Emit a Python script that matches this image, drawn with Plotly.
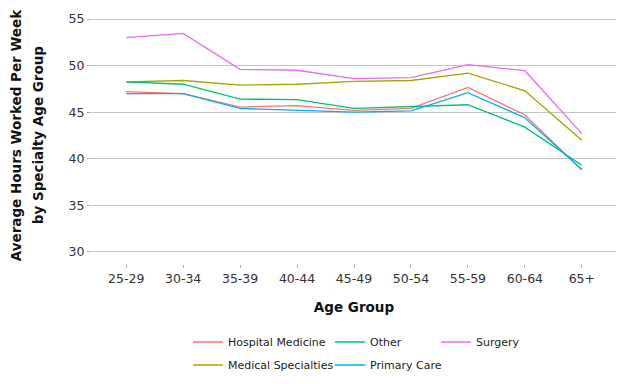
import plotly.graph_objects as go

age_groups = ["25-29", "30-34", "35-39", "40-44", "45-49", "50-54", "55-59", "60-64", "65+"]
hospital_medicine = [47.2, 47.0, 45.55, 45.7, 45.2, 45.4, 47.65, 44.7, 38.8]
medical_specialties = [48.25, 48.4, 47.9, 48.0, 48.3, 48.4, 49.2, 47.3, 42.0]
other = [48.25, 48.0, 46.4, 46.35, 45.4, 45.6, 45.8, 43.4, 39.3]
primary_care = [47.0, 47.0, 45.4, 45.2, 45.0, 45.15, 47.1, 44.4, 38.85]
surgery = [53.0, 53.45, 49.6, 49.5, 48.6, 48.7, 50.1, 49.45, 42.7]

W, H = 616, 376
series = [
    ("Hospital Medicine", hospital_medicine, "#F8766D", "legend", 180, 334),
    ("Medical Specialties", medical_specialties, "#A3A500", "legend2", 180, 357),
    ("Other", other, "#00BF7D", "legend3", 322, 334),
    ("Primary Care", primary_care, "#00B0F6", "legend4", 322, 357),
    ("Surgery", surgery, "#E76BF3", "legend5", 428, 334),
]

fig = go.Figure()
legends = {}
for name, vals, color, lg, lx, ly in series:
    fig.add_trace(go.Scatter(x=age_groups, y=vals, mode="lines", name=name,
                             line=dict(color=color, width=1.3), legend=lg))
    legends[lg] = dict(xref="container", yref="container", x=lx / W, y=1 - ly / H,
                       xanchor="left", yanchor="middle", orientation="v",
                       bgcolor="rgba(0,0,0,0)", font=dict(size=11, color="#222"),
                       itemwidth=30)

fig.update_layout(
    width=W, height=H,
    margin=dict(l=84, r=8, t=0, b=120, autoexpand=False),
    plot_bgcolor="white", paper_bgcolor="white",
    font=dict(family="DejaVu Sans", color="#333"),
    showlegend=True,
    xaxis=dict(type="category", range=[-0.6, 8.6], showgrid=False, zeroline=False, showline=False,
               ticks="outside", ticklen=3, tickcolor="#AAAAAA",
               tickfont=dict(size=12.5, color="#333"),
               title=dict(text="<b>Age Group</b>", font=dict(size=13.5, color="#111"), standoff=17)),
    yaxis=dict(range=[28.71, 56.18], tickvals=[30, 35, 40, 45, 50, 55], showgrid=True,
               gridcolor="#C4C4C4", gridwidth=1.1, zeroline=False, showline=False,
               ticks="outside", ticklen=4, tickcolor="#AAAAAA",
               tickfont=dict(size=12.5, color="#333")),
    annotations=[
        dict(text="<b>Average Hours Worked Per Week</b>", xref="paper", yref="paper",
             x=-0.145, y=0.503, textangle=-90, showarrow=False,
             font=dict(size=13.5, color="#111"), xanchor="center", yanchor="middle"),
        dict(text="<b>by Specialty Age Group</b>", xref="paper", yref="paper",
             x=-0.103, y=0.503, textangle=-90, showarrow=False,
             font=dict(size=13.5, color="#111"), xanchor="center", yanchor="middle"),
    ],
    **legends,
)

fig.write_html("out.html")
